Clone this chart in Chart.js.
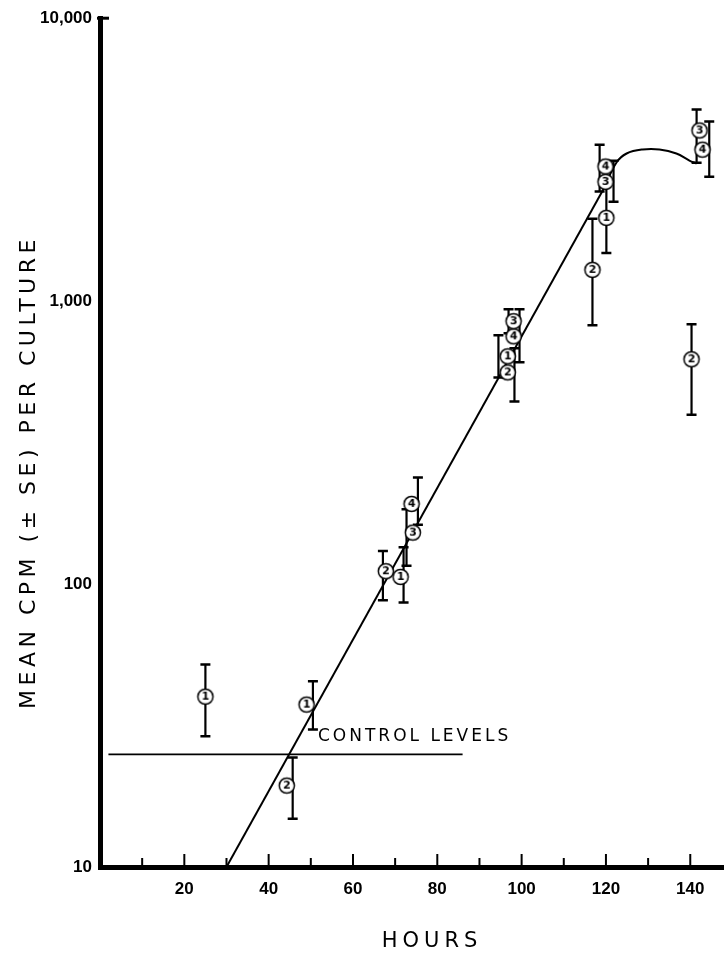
<!DOCTYPE html>
<html>
<head>
<meta charset="utf-8">
<script src="https://cdn.jsdelivr.net/npm/chart.js@4.4.1/dist/chart.umd.min.js"></script>
<style>
    html, body { margin: 0; padding: 0; background: #fff; }
</style>
</head>
<body>
<canvas id="growthChart" width="724" height="954"></canvas>
<script>
// culture 1..4: hour of the point, mean cpm, SE bar ends and the hour where the bar stands
const hours1 = [25, 49, 71.3, 96.7, 120.1];
const cpm1 = [40, 37.5, 106, 638, 1970];
const low1 = [29, 30.6, 86, 537, 1480];
const high1 = [52, 45.3, 135, 757, 2600];
const barHours1 = [25, 50.5, 72, 94.5, 120.1];

const hours2 = [44.3, 67.8, 96.7, 116.8, 140.3];
const cpm2 = [19.4, 111, 560, 1290, 623];
const low2 = [14.8, 87.7, 442, 822, 397];
const high2 = [24.4, 131, 681, 1954, 829];
const barHours2 = [45.7, 67.1, 98.3, 116.8, 140.3];

const hours3 = [74.2, 98.1, 119.9, 142.2];
const cpm3 = [152, 849, 2640, 4010];
const low3 = [116, 770, 2245, 3085];
const high3 = [184, 937, 3135, 4755];
const barHours3 = [72.7, 96.9, 121.8, 141.5];

const hours4 = [73.9, 98.1, 119.9, 142.9];
const cpm4 = [192, 751, 2990, 3430];
const low4 = [162, 608, 2440, 2754];
const high4 = [238, 937, 3570, 4315];
const barHours4 = [75.4, 99.5, 118.5, 144.5];

// fitted line, plateau curve and control level
const regHours = [30, 119.5];
const regCpm = [10, 2500];
const curveHours = [119.5, 122.5, 124.9, 128.7, 132.7, 136.7, 139.8, 141.5];
const curveCpm = [2500, 3090, 3325, 3435, 3435, 3325, 3140, 3065];
const controlHours = [2, 86];
const controlCpm = [25, 25];

const xTicks = [10, 20, 30, 40, 50, 60, 70, 80, 90, 100, 110, 120, 130, 140];
const yTicks = [10, 100, 1000, 10000];
const yTickLabels = ["10", "100", "1,000", "10,000"];

function toPoints(h, v) {
    return h.map((x, i) => ({ x: x, y: v[i] }));
}

// circled number used as marker
function makeMarker(label) {
    const c = document.createElement("canvas");
    c.width = 20;
    c.height = 20;
    const ctx = c.getContext("2d");
    ctx.beginPath();
    ctx.arc(10, 10, 7.6, 0, Math.PI * 2);
    ctx.fillStyle = "#fff";
    ctx.fill();
    ctx.lineWidth = 1.5;
    ctx.strokeStyle = "#000";
    ctx.stroke();
    ctx.fillStyle = "#000";
    ctx.font = "bold 11px 'DejaVu Sans'";
    ctx.textAlign = "center";
    ctx.textBaseline = "middle";
    ctx.fillText(label, 10, 10.5);
    return c;
}

function markerSet(label, h, v, lo, hi, bh) {
    return {
        type: "scatter",
        data: toPoints(h, v),
        pointStyle: makeMarker(label),
        pointRadius: 8,
        errLow: lo,
        errHigh: hi,
        errHours: bh,
        order: 0
    };
}

function lineSet(h, v, width, tension) {
    return {
        type: "line",
        data: toPoints(h, v),
        showLine: true,
        borderColor: "#000",
        borderWidth: width,
        pointRadius: 0,
        tension: tension,
        fill: false,
        order: 1
    };
}

const errorBars = {
    id: "errorBars",
    beforeDatasetsDraw(chart) {
        const ctx = chart.ctx;
        const xs = chart.scales.x;
        const ys = chart.scales.y;
        ctx.save();
        ctx.strokeStyle = "#000";
        chart.data.datasets.forEach(ds => {
            if (!ds.errLow) return;
            ds.errLow.forEach((lo, i) => {
                const x = xs.getPixelForValue(ds.errHours[i]);
                const y1 = ys.getPixelForValue(lo);
                const y2 = ys.getPixelForValue(ds.errHigh[i]);
                ctx.lineWidth = 2.2;
                ctx.beginPath();
                ctx.moveTo(x, y1);
                ctx.lineTo(x, y2);
                ctx.stroke();
                ctx.lineWidth = 2.5;
                ctx.beginPath();
                ctx.moveTo(x - 5, y1);
                ctx.lineTo(x + 5, y1);
                ctx.moveTo(x - 5, y2);
                ctx.lineTo(x + 5, y2);
                ctx.stroke();
            });
        });
        ctx.restore();
    }
};

const axisDecor = {
    id: "axisDecor",
    afterDraw(chart) {
        const ctx = chart.ctx;
        const xs = chart.scales.x;
        const ys = chart.scales.y;
        const area = chart.chartArea;
        ctx.save();
        ctx.strokeStyle = "#000";
        ctx.lineWidth = 2;
        // ticks pointing up into the plot
        xTicks.forEach(v => {
            const x = xs.getPixelForValue(v);
            const len = v % 20 === 0 ? 13 : 9;
            ctx.beginPath();
            ctx.moveTo(x, area.bottom);
            ctx.lineTo(x, area.bottom - len);
            ctx.stroke();
        });
        // cap at 10,000
        ctx.lineWidth = 3;
        ctx.beginPath();
        ctx.moveTo(area.left - 3, ys.getPixelForValue(10000));
        ctx.lineTo(area.left + 9, ys.getPixelForValue(10000));
        ctx.stroke();

        ctx.fillStyle = "#000";
        ctx.textBaseline = "middle";
        ctx.textAlign = "left";
        ctx.font = "17px 'DejaVu Sans'";
        ctx.letterSpacing = "3px";
        ctx.fillText("CONTROL LEVELS", xs.getPixelForValue(51.7), ys.getPixelForValue(29));

        ctx.textAlign = "center";
        ctx.font = "21px 'DejaVu Sans'";
        ctx.letterSpacing = "5px";
        ctx.fillText("HOURS", 432, 942);

        ctx.translate(29, 472);
        ctx.rotate(-Math.PI / 2);
        ctx.font = "22px 'DejaVu Sans'";
        ctx.letterSpacing = "4.5px";
        ctx.fillText("MEAN CPM (\u00B1 SE) PER CULTURE", 0, 0);
        ctx.restore();
    }
};

const tickFont = { family: "'Liberation Sans'", size: 17, weight: "bold" };

new Chart(document.querySelector("#growthChart"), {
    type: "scatter",
    data: {
        datasets: [
            markerSet("1", hours1, cpm1, low1, high1, barHours1),
            markerSet("2", hours2, cpm2, low2, high2, barHours2),
            markerSet("3", hours3, cpm3, low3, high3, barHours3),
            markerSet("4", hours4, cpm4, low4, high4, barHours4),
            lineSet(regHours, regCpm, 2, 0),
            lineSet(curveHours, curveCpm, 2, 0.4),
            lineSet(controlHours, controlCpm, 1.6, 0)
        ]
    },
    options: {
        responsive: false,
        devicePixelRatio: 1,
        animation: false,
        layout: { autoPadding: false, padding: { top: 18, right: 0, left: 0, bottom: 0 } },
        plugins: {
            legend: { display: false },
            tooltip: { enabled: false }
        },
        scales: {
            x: {
                type: "linear",
                min: 0,
                max: 148,
                grid: { display: false, drawTicks: false },
                border: { display: true, color: "#000", width: 5 },
                afterBuildTicks: s => { s.ticks = xTicks.map(v => ({ value: v })); },
                afterFit: s => {
                    s.height = 87;
                    s.paddingLeft = 0;
                    s.paddingRight = 0;
                },
                ticks: {
                    autoSkip: false,
                    maxRotation: 0,
                    padding: 12,
                    color: "#000",
                    font: tickFont,
                    callback: v => (v % 20 === 0 ? String(v) : "")
                }
            },
            y: {
                type: "logarithmic",
                min: 10,
                max: 10000,
                grid: { display: false, drawTicks: false },
                border: { display: true, color: "#000", width: 5 },
                afterBuildTicks: s => { s.ticks = yTicks.map(v => ({ value: v })); },
                afterFit: s => { s.width = 100; },
                ticks: {
                    padding: 8,
                    color: "#000",
                    font: tickFont,
                    callback: (v, i) => yTickLabels[i]
                }
            }
        }
    },
    plugins: [errorBars, axisDecor]
});
</script>
</body>
</html>
